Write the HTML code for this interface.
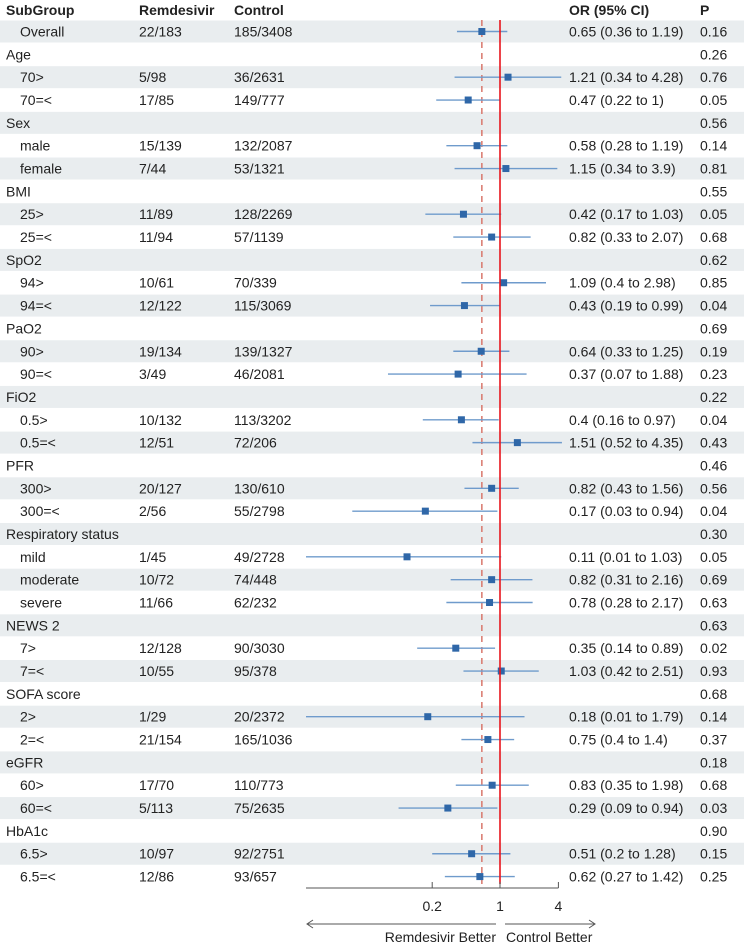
<!DOCTYPE html>
<html><head><meta charset="utf-8"><style>
body{margin:0;background:#fff;}
svg{display:block;font-family:"Liberation Sans",Arial,sans-serif;}
</style></head><body>
<svg id="c" width="744" height="943"></svg>
<script>
const labels=["Overall","Age","70>","70=<","Sex","male","female","BMI","25>","25=<","SpO2","94>","94=<","PaO2","90>","90=<","FiO2","0.5>","0.5=<","PFR","300>","300=<","Respiratory status","mild","moderate","severe","NEWS 2","7>","7=<","SOFA score","2>","2=<","eGFR","60>","60=<","HbA1c","6.5>","6.5=<"];
const isHeader=[0,1,0,0,1,0,0,1,0,0,1,0,0,1,0,0,1,0,0,1,0,0,1,0,0,0,1,0,0,1,0,0,1,0,0,1,0,0];
const remd=["22/183","","5/98","17/85","","15/139","7/44","","11/89","11/94","","10/61","12/122","","19/134","3/49","","10/132","12/51","","20/127","2/56","","1/45","10/72","11/66","","12/128","10/55","","1/29","21/154","","17/70","5/113","","10/97","12/86"];
const ctrl=["185/3408","","36/2631","149/777","","132/2087","53/1321","","128/2269","57/1139","","70/339","115/3069","","139/1327","46/2081","","113/3202","72/206","","130/610","55/2798","","49/2728","74/448","62/232","","90/3030","95/378","","20/2372","165/1036","","110/773","75/2635","","92/2751","93/657"];
const orv=[0.65,null,1.21,0.47,null,0.58,1.15,null,0.42,0.82,null,1.09,0.43,null,0.64,0.37,null,0.4,1.51,null,0.82,0.17,null,0.11,0.82,0.78,null,0.35,1.03,null,0.18,0.75,null,0.83,0.29,null,0.51,0.62];
const lo=[0.36,null,0.34,0.22,null,0.28,0.34,null,0.17,0.33,null,0.4,0.19,null,0.33,0.07,null,0.16,0.52,null,0.43,0.03,null,0.01,0.31,0.28,null,0.14,0.42,null,0.01,0.4,null,0.35,0.09,null,0.2,0.27];
const hi=[1.19,null,4.28,1,null,1.19,3.9,null,1.03,2.07,null,2.98,0.99,null,1.25,1.88,null,0.97,4.35,null,1.56,0.94,null,1.03,2.16,2.17,null,0.89,2.51,null,1.79,1.4,null,1.98,0.94,null,1.28,1.42];
const pv=["0.16","0.26","0.76","0.05","0.56","0.14","0.81","0.55","0.05","0.68","0.62","0.85","0.04","0.69","0.19","0.23","0.22","0.04","0.43","0.46","0.56","0.04","0.30","0.05","0.69","0.63","0.63","0.02","0.93","0.68","0.14","0.37","0.18","0.68","0.03","0.90","0.15","0.25"];
const ticks=[0.2,1,4];
const overallOR=0.65;

const NS="http://www.w3.org/2000/svg";
const svg=document.getElementById('c');
function x(v){return 500+97*Math.log10(v);}
function y(i){return 31.5+i*22.84;}
function mk(t,a,p){const e=document.createElementNS(NS,t);for(const k in a)e.setAttribute(k,a[k]);(p||svg).appendChild(e);return e;}
function tx(s,X,Y,opt){const e=mk('text',Object.assign({x:X,y:Y,'font-size':14,fill:'#222','dominant-baseline':'central'},opt||{}));e.textContent=s;return e;}
[["SubGroup",6],["Remdesivir",139],["Control",234],["OR (95% CI)",569],["P",700]].forEach(h=>{
 const e=tx(h[0],h[1],10,{'font-weight':'bold'});
 
 
});
for(let i=0;i<labels.length;i++){
 if(i%2===0){const r=mk('rect',{x:0,y:y(i)-11,width:744,height:22,fill:'#e9edef'});
  
  }
}
for(let i=0;i<labels.length;i++){
 const l=tx(labels[i],isHeader[i]?6:20,y(i));
 
 
 if(remd[i]){const a=tx(remd[i],139,y(i));}
 if(ctrl[i]){const b=tx(ctrl[i],234,y(i));}
 const p=tx(pv[i],700,y(i));
 if(orv[i]!==null){
  const o=tx(orv[i]+" ("+lo[i]+" to "+hi[i]+")",569,y(i));
  
  
 }
}
const dl=mk('line',{x1:x(overallOR),x2:x(overallOR),y1:20,y2:884,stroke:'#d9776c','stroke-width':1.5,'stroke-dasharray':'6,5'});


for(let i=0;i<labels.length;i++){
 if(orv[i]===null)continue;
 const ci=mk('line',{x1:x(lo[i]),x2:x(hi[i]),y1:y(i),y2:y(i),stroke:'#6f9bcc','stroke-width':1.4});
 
 
 const m=mk('rect',{x:x(orv[i])-3.5,y:y(i)-3.5,width:7,height:7,fill:'#2f67a8'});
 
 
}
const rl=mk('line',{x1:x(1),x2:x(1),y1:20,y2:884,stroke:'#e8141c','stroke-width':1.6});


const ax=mk('line',{x1:x(0.01),x2:x(4),y1:888,y2:888,stroke:'#555','stroke-width':1});


ticks.forEach(t=>{
 const tk=mk('line',{x1:x(t),x2:x(t),y1:882,y2:888,stroke:'#555'});
 
 
 const tl=tx(String(t),x(t),906,{'text-anchor':'middle'});
 
 
});
const g=mk('g',{stroke:'#555',fill:'none','stroke-width':1});


mk('path',{d:'M496 924 L307 924 M313 920 L307 924 L313 928'},g);
mk('path',{d:'M505 924 L595 924 M589 920 L595 924 L589 928'},g);
const t1=tx("Remdesivir Better",496,937,{'text-anchor':'end'});


const t2=tx("Control Better",506,937);


</script>
</body></html>
